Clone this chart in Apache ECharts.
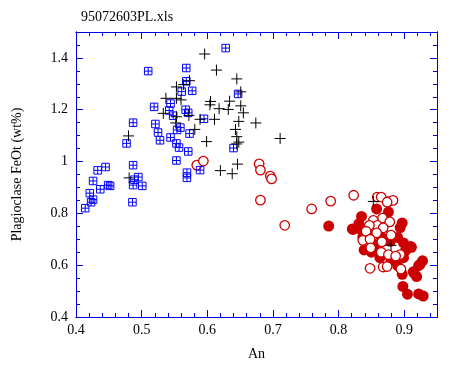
<!DOCTYPE html>
<html>
<head>
<meta charset="utf-8">
<script src="https://cdn.jsdelivr.net/npm/echarts@6/dist/echarts.min.js"></script>
<style>html,body{margin:0;padding:0;background:#fff;}#c{width:455px;height:366px;}</style>
</head>
<body>
<div id="c"></div>
<script>
var titleText = '95072603PL.xls';
var xName = 'An';
var yName = 'Plagioclase FeOt (wt%)';

var blueAn = [0.510,0.568,0.568,0.561,0.577,0.519,0.544,0.542,0.548,0.567,0.571,0.487,0.521,0.595,0.559,0.554,0.525,0.573,0.544,0.528,0.477,0.553,0.557,0.571,0.553,0.589,0.569,0.569,0.487,0.445,0.433,0.495,0.489,0.426,0.501,0.449,0.452,0.487,0.437,0.421,0.426,0.423,0.486,0.414,0.628,0.647,0.640];
var blueFeO = [1.349,1.361,1.310,1.270,1.273,1.211,1.224,1.197,1.177,1.200,1.188,1.150,1.145,1.165,1.131,1.122,1.112,1.108,1.093,1.082,1.070,1.070,1.054,1.039,1.004,0.967,0.957,0.937,0.986,0.979,0.966,0.940,0.930,0.925,0.906,0.909,0.906,0.909,0.893,0.878,0.853,0.843,0.843,0.820,1.438,1.261,1.052];

var crossAn = [0.596,0.573,0.553,0.564,0.537,0.553,0.560,0.533,0.553,0.572,0.589,0.552,0.581,0.599,0.480,0.481,0.614,0.645,0.651,0.634,0.605,0.604,0.651,0.618,0.632,0.655,0.611,0.648,0.674,0.643,0.645,0.711,0.648,0.645,0.646,0.620,0.638,0.853,0.880];
var crossFeO = [1.415,1.312,1.288,1.297,1.244,1.244,1.238,1.186,1.173,1.178,1.163,1.149,1.124,1.077,1.099,0.937,1.353,1.319,1.269,1.233,1.232,1.219,1.215,1.204,1.201,1.188,1.163,1.155,1.149,1.124,1.096,1.089,1.075,1.068,0.990,0.965,0.953,0.846,0.677];

var openAn = [0.584,0.594,0.679,0.681,0.696,0.698,0.681,0.759,0.718,0.788,0.823,0.859,0.865,0.875,0.883,0.867,0.853,0.878,0.859,0.847,0.868,0.842,0.858,0.880,0.837,0.848,0.866,0.849,0.865,0.876,0.894,0.887,0.848,0.868,0.874,0.895,0.874];
var openFeO = [0.986,1.002,0.991,0.967,0.944,0.933,0.851,0.817,0.754,0.847,0.870,0.863,0.863,0.845,0.850,0.782,0.773,0.767,0.754,0.754,0.744,0.731,0.725,0.716,0.696,0.700,0.690,0.667,0.650,0.641,0.641,0.635,0.588,0.593,0.595,0.585,0.843];

var solidAn = [0.858,0.876,0.835,0.785,0.821,0.831,0.897,0.894,0.837,0.890,0.899,0.911,0.839,0.858,0.902,0.863,0.899,0.928,0.922,0.890,0.915,0.919,0.897,0.898,0.905,0.922,0.929,0.879,0.863,0.910,0.924,0.914,0.832,0.822,0.845,0.870,0.855,0.880,0.850];
var solidFeO = [0.817,0.805,0.788,0.751,0.740,0.760,0.763,0.745,0.709,0.707,0.686,0.669,0.659,0.664,0.656,0.629,0.629,0.617,0.598,0.598,0.569,0.556,0.565,0.518,0.488,0.489,0.481,0.692,0.716,0.672,0.603,0.575,0.741,0.738,0.720,0.700,0.680,0.620,0.650];

var xMin = 0.4, xMax = 0.95, yMin = 0.4, yMax = 1.5;

function zip(a, b) { return a.map(function (v, i) { return [v, b[i]]; }); }

var AX = '#0000e6';
var FONT = 'Liberation Serif';
var RED = '#cc0000';

function xAx(pos, interval, len, showLabel, extra) {
  var o = {
    type: 'value', position: pos, min: xMin, max: xMax, interval: interval, gridIndex: 0,
    axisLine: { show: true, onZero: false, lineStyle: { color: AX, width: 1 } },
    axisTick: { show: true, inside: true, length: len, lineStyle: { color: AX, width: 1 } },
    axisLabel: { show: false }, splitLine: { show: false }
  };
  if (showLabel) {
    o.axisLabel = {
      show: true, margin: 6, color: '#000', fontFamily: FONT, fontSize: 14,
      showMaxLabel: true, showMinLabel: true,
      formatter: function (v) {
        var k = Math.round(v * 100);
        if (k % 10 !== 0 || v > 0.945) return '';
        return String(+v.toFixed(2));
      }
    };
  }
  return Object.assign(o, extra || {});
}
function yAx(pos, interval, len, showLabel, extra) {
  var o = {
    type: 'value', position: pos, min: yMin, max: yMax, interval: interval, gridIndex: 0,
    axisLine: { show: true, onZero: false, lineStyle: { color: AX, width: 1 } },
    axisTick: { show: true, inside: true, length: len, lineStyle: { color: AX, width: 1 } },
    axisLabel: { show: false }, splitLine: { show: false }
  };
  if (showLabel) {
    o.axisLabel = {
      show: true, margin: 8, color: '#000', fontFamily: FONT, fontSize: 14,
      showMaxLabel: true, showMinLabel: true,
      formatter: function (v) {
        var k = Math.round(v * 100);
        if (k % 20 !== 0 || v > 1.45) return '';
        return String(+v.toFixed(2));
      }
    };
  }
  return Object.assign(o, extra || {});
}

var chart = echarts.init(document.getElementById('c'), null, { renderer: 'canvas' });
chart.setOption({
  animation: false,
  backgroundColor: '#fff',
  title: {
    text: titleText, left: 76, top: 5,
    textStyle: { fontFamily: FONT, fontSize: 14, fontWeight: 'normal', color: '#000' }
  },
  grid: { left: 76, top: 32, right: 18, bottom: 47, containLabel: false },
  xAxis: [
    xAx('bottom', 0.02, 4, true, {
      name: xName, nameLocation: 'middle', nameGap: 30,
      nameTextStyle: { fontFamily: FONT, fontSize: 14, color: '#000' }
    }),
    xAx('bottom', 0.1, 7, false),
    xAx('top', 0.02, 4, false),
    xAx('top', 0.1, 7, false)
  ],
  yAxis: [
    yAx('left', 0.05, 4, true, {
      name: yName, nameLocation: 'middle', nameGap: 52,
      nameTextStyle: { fontFamily: FONT, fontSize: 14, color: '#000' }
    }),
    yAx('left', 0.2, 7, false),
    yAx('right', 0.05, 4, false),
    yAx('right', 0.2, 7, false)
  ],
  series: [
    {
      type: 'scatter', name: 'solid', data: zip(solidAn, solidFeO), z: 2,
      symbol: 'circle', symbolSize: 11,
      itemStyle: { color: RED, borderColor: RED, borderWidth: 0, opacity: 1 }
    },
    {
      type: 'scatter', name: 'open', data: zip(openAn, openFeO), z: 3,
      symbol: 'circle', symbolSize: 9.5,
      itemStyle: { color: '#fff', borderColor: RED, borderWidth: 1.3, opacity: 1 }
    },
    {
      type: 'scatter', name: 'blue', data: zip(blueAn, blueFeO), z: 4,
      symbol: 'path://M0,0H8V8H0ZM4,0V8M0,4H8', symbolSize: 7.5, symbolKeepAspect: true,
      itemStyle: { color: 'rgba(0,0,0,0)', borderColor: '#0000ff', borderWidth: 1, opacity: 1 }
    },
    {
      type: 'scatter', name: 'cross', data: zip(crossAn, crossFeO), z: 5,
      symbol: 'path://M5,0V10M0,5H10', symbolSize: 11, symbolKeepAspect: true,
      itemStyle: { color: 'rgba(0,0,0,0)', borderColor: '#000', borderWidth: 1, opacity: 1 }
    }
  ]
});
</script>
</body>
</html>
